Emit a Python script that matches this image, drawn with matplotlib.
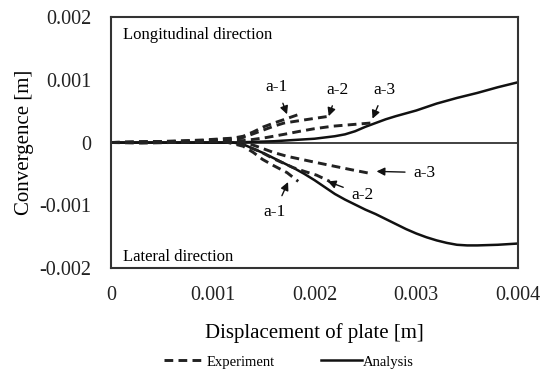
import matplotlib.pyplot as plt
from matplotlib.lines import Line2D

plt.rcParams['font.family'] = ['Liberation Serif', 'DejaVu Serif']

# analysis (solid)
ana_x = [0, 0.0012, 0.0014, 0.0016, 0.0018, 0.002, 0.0021, 0.0022, 0.0023, 0.0024, 0.0025,
         0.0026, 0.0027, 0.0028, 0.003, 0.0032, 0.0034, 0.0036, 0.0038, 0.004]
ana_long = [0, 0, 0.00001, 0.00002, 0.00004, 0.00006, 0.00008, 0.0001, 0.00013, 0.00018, 0.00025,
            0.00031, 0.00037, 0.00042, 0.00051, 0.00062, 0.00071, 0.00079, 0.00088, 0.00096]
ana_lat_x = [0, 0.0012, 0.0013, 0.0014, 0.0015, 0.0016, 0.0017, 0.0018, 0.0019, 0.002, 0.0021,
             0.0022, 0.0023, 0.0024, 0.0025, 0.0026, 0.0027, 0.0028, 0.0029, 0.003, 0.0031,
             0.0032, 0.0033, 0.0034, 0.0035, 0.0036, 0.0038, 0.004]
ana_lat = [0, 0, -0.00003, -0.0001, -0.00017, -0.00025, -0.00033, -0.00041, -0.0005, -0.0006,
           -0.00071, -0.00082, -0.00091, -0.00099, -0.00107, -0.00114, -0.00122, -0.0013,
           -0.00138, -0.00145, -0.00151, -0.00156, -0.0016, -0.00163, -0.00164, -0.00164,
           -0.00163, -0.00161]

# experiment (dashed), longitudinal
a1_long_x = [0, 0.0003, 0.0006, 0.0009, 0.0011, 0.0012, 0.0013, 0.0014, 0.0015, 0.0016, 0.00169, 0.00185]
a1_long_y = [0, 0.00001, 0.00002, 0.00004, 0.00006, 0.00007, 0.0001, 0.00017, 0.00025, 0.00031, 0.00036, 0.00045]
a2_long_x = [0, 0.0003, 0.0006, 0.0009, 0.0011, 0.0012, 0.0013, 0.0014, 0.0015, 0.0016, 0.0017, 0.0019, 0.00215]
a2_long_y = [0, 0.00001, 0.00002, 0.00003, 0.00005, 0.00006, 0.00008, 0.00014, 0.0002, 0.00026, 0.00031, 0.00036, 0.00042]
a3_long_x = [0, 0.0003, 0.0006, 0.0009, 0.0011, 0.0013, 0.0014, 0.00153, 0.0017, 0.00186, 0.002, 0.00218, 0.00255]
a3_long_y = [0, 0.00001, 0.00001, 0.00002, 0.00004, 0.00003, 0.00005, 0.00008, 0.00013, 0.00018, 0.00022, 0.00026, 0.00031]

# experiment (dashed), lateral
a1_lat_x = [0, 0.0003, 0.0006, 0.0009, 0.0011, 0.0013, 0.0014, 0.00149, 0.0016, 0.00173, 0.00184]
a1_lat_y = [0, -0.00001, 0, 0.00002, 0.00002, -0.00006, -0.00016, -0.00027, -0.00037, -0.00048, -0.00062]
a2_lat_x = [0, 0.0003, 0.0006, 0.0009, 0.0011, 0.0013, 0.00146, 0.0016, 0.00179, 0.0019, 0.00202, 0.00215]
a2_lat_y = [0, 0, 0.00001, 0.00003, 0.00003, -0.00004, -0.00014, -0.00026, -0.0004, -0.00046, -0.00052, -0.00062]
a3_lat_x = [0, 0.0003, 0.0006, 0.0009, 0.0011, 0.0013, 0.00143, 0.0016, 0.00173, 0.00202, 0.00235, 0.00254]
a3_lat_y = [0, 0, 0, 0.00001, 0.00002, 0.00001, -0.00006, -0.00016, -0.00022, -0.00032, -0.00043, -0.00049]

xticks = [0, 0.001, 0.002, 0.003, 0.004]
xtick_labels = ['0', '0.001', '0.002', '0.003', '0.004']
yticks = [-0.002, -0.001, 0, 0.001, 0.002]
ytick_labels = ['-0.002', '-0.001', '0', '0.001', '0.002']

# label text pos, arrow head
labels = [
    ('a-1', 0.00163, 0.00088, 0.00173, 0.00045),
    ('a-2', 0.00223, 0.00084, 0.00214, 0.00042),
    ('a-3', 0.00269, 0.00084, 0.00257, 0.00038),
    ('a-3', 0.00308, -0.00048, 0.00261, -0.00046),
    ('a-2', 0.00247, -0.00083, 0.00213, -0.00062),
    ('a-1', 0.00161, -0.0011, 0.00174, -0.00063),
]

fig = plt.figure(figsize=(5.46, 3.74), dpi=100)
ax = fig.add_axes([111 / 546, 1 - 268 / 374, 407 / 546, 251 / 374])

dash = dict(color='#222222', lw=2.1, linestyle=(0, (3, 1.8)))
solid = dict(color='#111111', lw=1.8)

ax.axhline(0, color='#333333', lw=1.3)
ax.plot(ana_x, ana_long, **solid)
ax.plot(ana_lat_x, ana_lat, **solid)
for xs, ys in [(a1_long_x, a1_long_y), (a2_long_x, a2_long_y), (a3_long_x, a3_long_y),
               (a1_lat_x, a1_lat_y), (a2_lat_x, a2_lat_y), (a3_lat_x, a3_lat_y)]:
    ax.plot(xs, ys, **dash)

for txt, tx, ty, hx, hy in labels:
    ax.annotate(txt, xy=(hx, hy), xytext=(tx, ty), ha='center', va='center', fontsize=12.5,
                arrowprops=dict(arrowstyle='-|>', color='#111111', lw=1.0,
                                mutation_scale=12, shrinkA=4, shrinkB=0))

ax.text(0.00012, 0.00172, 'Longitudinal direction', fontsize=12, va='center')
ax.text(0.00012, -0.00183, 'Lateral direction', fontsize=12, va='center')

ax.set_xlim(0, 0.004)
ax.set_ylim(-0.002, 0.002)
ax.set_xticks(xticks)
ax.set_xticklabels(xtick_labels)
ax.set_yticks(yticks)
ax.set_yticklabels(ytick_labels)
ax.tick_params(length=0, labelsize=14.5, colors='#222222')
ax.tick_params(axis='x', pad=13)
ax.tick_params(axis='y', pad=14)
for s in ax.spines.values():
    s.set_linewidth(1.5)
    s.set_color('#333333')

ax.set_xlabel('Displacement of plate [m]', fontsize=15, labelpad=13)
ax.set_ylabel('Convergence [m]', fontsize=15, labelpad=4)

handles = [Line2D([], [], **dash), Line2D([], [], **solid)]
fig.legend(handles, ['Experiment', 'Analysis'], loc='center', bbox_to_anchor=(289 / 546, 1 - 362 / 374),
           ncol=2, frameon=False, fontsize=10.5, handlelength=2.8, handletextpad=0.1,
           columnspacing=3.2)

fig.savefig('out.png', dpi=100)
